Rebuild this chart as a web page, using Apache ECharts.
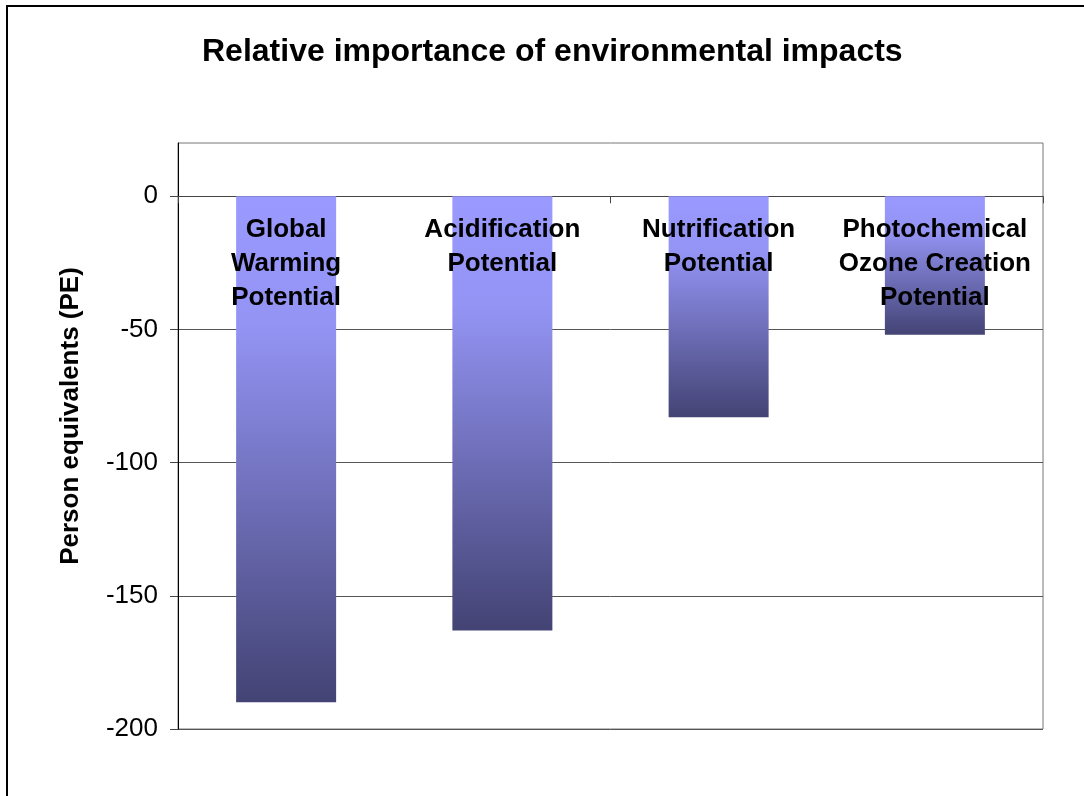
<!DOCTYPE html>
<html>
<head>
<meta charset="utf-8">
<script src="https://cdn.jsdelivr.net/npm/echarts@6/dist/echarts.min.js"></script>
<style>html,body{margin:0;padding:0;background:#fff;}#c{width:1084px;height:796px;}</style>
</head>
<body>
<div id="c"></div>
<script>
var categories = ['Global Warming Potential', 'Acidification Potential', 'Nutrification Potential', 'Photochemical Ozone Creation Potential'];
var barLabels = ['Global\nWarming\nPotential', 'Acidification\nPotential', 'Nutrification\nPotential', 'Photochemical\nOzone Creation\nPotential'];
var values = [-190, -163, -83, -52];
var yTicks = [-200, -150, -100, -50, 0];

var FONT = '"Liberation Sans", Arial, sans-serif';
var chart = echarts.init(document.getElementById('c'));
chart.setOption({
  backgroundColor: '#fff',
  animation: false,
  title: {
    text: 'Relative importance of environmental impacts',
    left: 197,
    top: 31,
    textStyle: { fontFamily: FONT, fontSize: 32, fontWeight: 'bold', color: '#000' }
  },
  graphic: [{
    type: 'rect',
    shape: { x: 7, y: 6, width: 1100, height: 820 },
    style: { fill: 'none', stroke: '#000', lineWidth: 2 },
    silent: true
  }],
  grid: {
    left: 178, right: 41, top: 143, bottom: 67,
    show: true, borderColor: '#777', borderWidth: 1, backgroundColor: 'transparent'
  },
  xAxis: {
    type: 'category',
    data: categories,
    position: 'bottom',
    axisLine: { onZero: true, lineStyle: { color: '#444', width: 1 } },
    axisTick: { show: true, length: 7, alignWithLabel: false, lineStyle: { color: '#444' } },
    axisLabel: { show: false },
    splitLine: { show: false }
  },
  yAxis: {
    type: 'value',
    min: -200, max: 20, interval: 50,
    name: 'Person equivalents (PE)',
    nameLocation: 'middle',
    nameGap: 94,
    nameTextStyle: { fontFamily: FONT, fontSize: 26, fontWeight: 'bold', color: '#000', padding: [0, 0, 0, 40] },
    axisLine: { show: true, lineStyle: { color: '#000', width: 1 } },
    axisTick: { show: true, length: 8, inside: false, customValues: yTicks, lineStyle: { color: '#444' } },
    axisLabel: { customValues: yTicks, margin: 20, fontFamily: FONT, fontSize: 26, color: '#000' },
    splitLine: { show: true, lineStyle: { color: '#555', width: 1 } }
  },
  series: [{
    type: 'bar',
    data: values,
    barWidth: 100,
    itemStyle: {
      color: new echarts.graphic.LinearGradient(0, 0, 0, 1, [
        { offset: 0, color: '#9999ff' },
        { offset: 0.25, color: '#9494f5' },
        { offset: 1, color: '#434374' }
      ])
    },
    label: {
      show: true,
      position: 'insideTop',
      distance: 17,
      formatter: function (p) { return barLabels[p.dataIndex]; },
      fontFamily: FONT, fontSize: 26, fontWeight: 'bold', color: '#000', lineHeight: 34, align: 'center'
    }
  }]
});
</script>
</body>
</html>
